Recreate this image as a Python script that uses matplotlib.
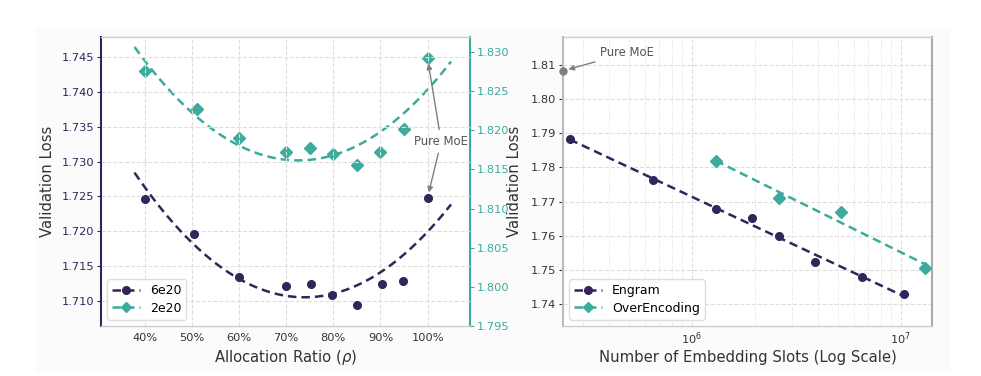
import matplotlib
matplotlib.use("Agg")
import matplotlib.pyplot as plt
import numpy as np
from matplotlib.patches import Rectangle
from matplotlib.ticker import FuncFormatter

# ---- data: allocation ratio sweep ----
ratio_6e20 = [0.40, 0.505, 0.60, 0.70, 0.753, 0.797, 0.85, 0.904, 0.947, 1.00]
loss_6e20 = [1.7247, 1.7196, 1.7135, 1.7121, 1.7125, 1.7108, 1.7094, 1.7124, 1.7129, 1.7248]
ratio_2e20 = [0.40, 0.51, 0.60, 0.70, 0.75, 0.80, 0.85, 0.90, 0.95, 1.00]
loss_2e20 = [1.8275, 1.8227, 1.8190, 1.8172, 1.8177, 1.8169, 1.8155, 1.8172, 1.8201, 1.8292]

# ---- data: embedding slot scaling ----
slots_engram = [2.6e5, 6.5e5, 1.3e6, 1.95e6, 2.6e6, 3.9e6, 6.5e6, 1.04e7]
loss_engram = [1.7883, 1.7763, 1.7678, 1.7651, 1.7600, 1.7525, 1.7479, 1.7430]
slots_overenc = [1.3e6, 2.6e6, 5.2e6, 1.3e7]
loss_overenc = [1.7820, 1.7711, 1.7669, 1.7505]
moe_slots = 2.42e5
moe_loss = 1.8082

PURPLE = "#2f2659"
TEAL = "#3aab9c"
GRAY = "#7f7f7f"
TXT = "#333333"
GRID = "#dedede"
DASH = (3.4, 2.0)
TICK_FS = 8.2
LABEL_FS = 10.7

plt.rcParams["font.family"] = "DejaVu Sans"

fig = plt.figure(figsize=(9.81, 3.76), dpi=100)
fig.patch.set_facecolor("white")
fig.patches.append(Rectangle((35 / 981, 4 / 376), 915 / 981, 344 / 376,
                             transform=fig.transFigure, facecolor="#fbfbfb",
                             edgecolor="none", zorder=-10))

ax = fig.add_axes([0.103, 0.133, 0.376, 0.7686])
ax2 = ax.twinx()
bx = fig.add_axes([0.574, 0.133, 0.376, 0.7686])


def style_axes(a):
    a.set_facecolor("white")
    a.grid(True, which="major", linestyle="--", color=GRID, linewidth=0.8)
    a.set_axisbelow(True)
    a.tick_params(axis="x", length=0, labelsize=TICK_FS, labelcolor=TXT, pad=5)
    a.tick_params(axis="y", length=3, labelsize=TICK_FS, pad=2)
    for s in a.spines.values():
        s.set_color("#cccccc")
        s.set_linewidth(1.0)


# ---------------- left panel ----------------
style_axes(ax)
xs = np.linspace(0.378, 1.05, 200)
fit_a = np.polyfit(ratio_6e20, loss_6e20, 2)
fit_b = np.polyfit(ratio_2e20, loss_2e20, 2)

ax.plot(ratio_6e20, loss_6e20, "o", color=PURPLE, ms=5.5, zorder=4)
ax.plot(xs, np.polyval(fit_a, xs), "--", color=PURPLE, lw=1.8, dashes=DASH, zorder=3)
ax.plot([], [], "--o", color=PURPLE, lw=1.8, ms=5.5, dashes=DASH, label="6e20")
ax.plot([], [], "--D", color=TEAL, lw=1.8, ms=5.5, dashes=DASH, label="2e20")

ax2.plot(ratio_2e20, loss_2e20, "D", color=TEAL, ms=6, zorder=4)
ax2.plot(xs, np.polyval(fit_b, xs), "--", color=TEAL, lw=1.8, dashes=DASH, zorder=3)

ax.set_xlim(0.307, 1.09)
ax.set_ylim(1.7064, 1.7479)
ax2.set_ylim(1.795, 1.8319)
ax.set_xticks([0.4, 0.5, 0.6, 0.7, 0.8, 0.9, 1.0])
ax.xaxis.set_major_formatter(FuncFormatter(lambda v, p: f"{v * 100:.0f}%"))
ax.set_yticks(np.arange(1.710, 1.7451, 0.005))
ax2.set_yticks(np.arange(1.795, 1.8301, 0.005))
ax.yaxis.set_major_formatter(FuncFormatter(lambda v, p: f"{v:.3f}"))
ax2.yaxis.set_major_formatter(FuncFormatter(lambda v, p: f"{v:.3f}"))

ax.tick_params(axis="y", colors=PURPLE, labelcolor=PURPLE)
ax2.tick_params(axis="y", length=3, labelsize=TICK_FS, pad=2, colors=TEAL, labelcolor=TEAL)
ax.spines["left"].set_color(PURPLE)
ax.spines["left"].set_linewidth(1.5)
ax2.spines["right"].set_color(TEAL)
ax2.spines["right"].set_linewidth(1.5)
for s in ("left", "top", "bottom"):
    ax2.spines[s].set_visible(False)
ax.spines["right"].set_visible(False)

ax.set_xlabel(r"Allocation Ratio ($\rho$)", fontsize=LABEL_FS, color=TXT, labelpad=4)
ax.set_ylabel("Validation Loss", fontsize=LABEL_FS, color=TXT, labelpad=5)

arrow = dict(arrowstyle="-|>", color=GRAY, lw=1.0, mutation_scale=8,
             shrinkA=2, shrinkB=4)
ax.annotate("Pure MoE", xy=(1.0, loss_2e20[-1]), xycoords=ax2.transData,
            xytext=(1.029, 1.7329), textcoords=ax.transData,
            ha="center", va="center", fontsize=8.4, color="#555555",
            arrowprops=arrow, zorder=6)
ax.annotate("Pure MoE", xy=(1.0, loss_6e20[-1]), xytext=(1.029, 1.7329),
            ha="center", va="center", fontsize=8.4, color="none",
            arrowprops=arrow, zorder=6)

ax.legend(loc="lower left", fontsize=9, frameon=True, framealpha=1.0,
          edgecolor="#dddddd", handlelength=2.2, borderpad=0.4,
          labelspacing=0.35, handletextpad=0.8)
ax.patch.set_visible(False)
ax2.set_facecolor("white")
ax2.patch.set_visible(True)
ax.set_zorder(1)
ax2.set_zorder(0)

# ---------------- right panel ----------------
style_axes(bx)
bx.set_xscale("log")
bx.grid(True, which="minor", axis="x", linestyle="--", color="#ececec", linewidth=0.7)
bx.tick_params(axis="x", which="minor", length=0)
bx.tick_params(axis="x", which="major", pad=3)
bx.tick_params(axis="y", colors=TXT, labelcolor=TXT)

le = np.log10(slots_engram)
lo = np.log10(slots_overenc)
fe = np.polyfit(le, loss_engram, 1)
fo = np.polyfit(lo, loss_overenc, 1)
xe = np.logspace(le.min(), le.max(), 50)
xo = np.logspace(lo.min(), lo.max(), 50)

bx.plot(xe, np.polyval(fe, np.log10(xe)), "--", color=PURPLE, lw=1.8, dashes=DASH, zorder=3)
bx.plot(xo, np.polyval(fo, np.log10(xo)), "--", color=TEAL, lw=1.8, dashes=DASH, zorder=3)
bx.plot(slots_engram, loss_engram, "o", color=PURPLE, ms=5.5, zorder=4)
bx.plot(slots_overenc, loss_overenc, "D", color=TEAL, ms=6, zorder=4)
bx.plot([], [], "--o", color=PURPLE, lw=1.8, ms=5.5, dashes=DASH, label="Engram")
bx.plot([], [], "--D", color=TEAL, lw=1.8, ms=5.5, dashes=DASH, label="OverEncoding")
bx.plot([moe_slots], [moe_loss], "o", color=GRAY, ms=5, zorder=5, clip_on=False)
bx.annotate("Pure MoE", xy=(moe_slots, moe_loss), xytext=(3.65e5, 1.8135),
            ha="left", va="center", fontsize=8.4, color="#555555",
            arrowprops=arrow, zorder=6)

bx.set_xlim(2.42e5, 1.41e7)
bx.set_ylim(1.7337, 1.8181)
bx.set_yticks(np.arange(1.74, 1.8101, 0.01))
bx.yaxis.set_major_formatter(FuncFormatter(lambda v, p: f"{v:.2f}"))
bx.spines["left"].set_color("#bbbbbb")
bx.spines["right"].set_color("#aaaaaa")
bx.spines["left"].set_linewidth(1.5)
bx.spines["right"].set_linewidth(1.5)
bx.set_xlabel("Number of Embedding Slots (Log Scale)", fontsize=LABEL_FS, color=TXT, labelpad=2)
bx.set_ylabel("Validation Loss", fontsize=LABEL_FS, color=TXT, labelpad=6)
bx.legend(loc="lower left", fontsize=9, frameon=True, framealpha=1.0,
          edgecolor="#dddddd", handlelength=2.2, borderpad=0.4,
          labelspacing=0.35, handletextpad=0.8)

fig.savefig("out.png", dpi=100, facecolor=fig.get_facecolor())
